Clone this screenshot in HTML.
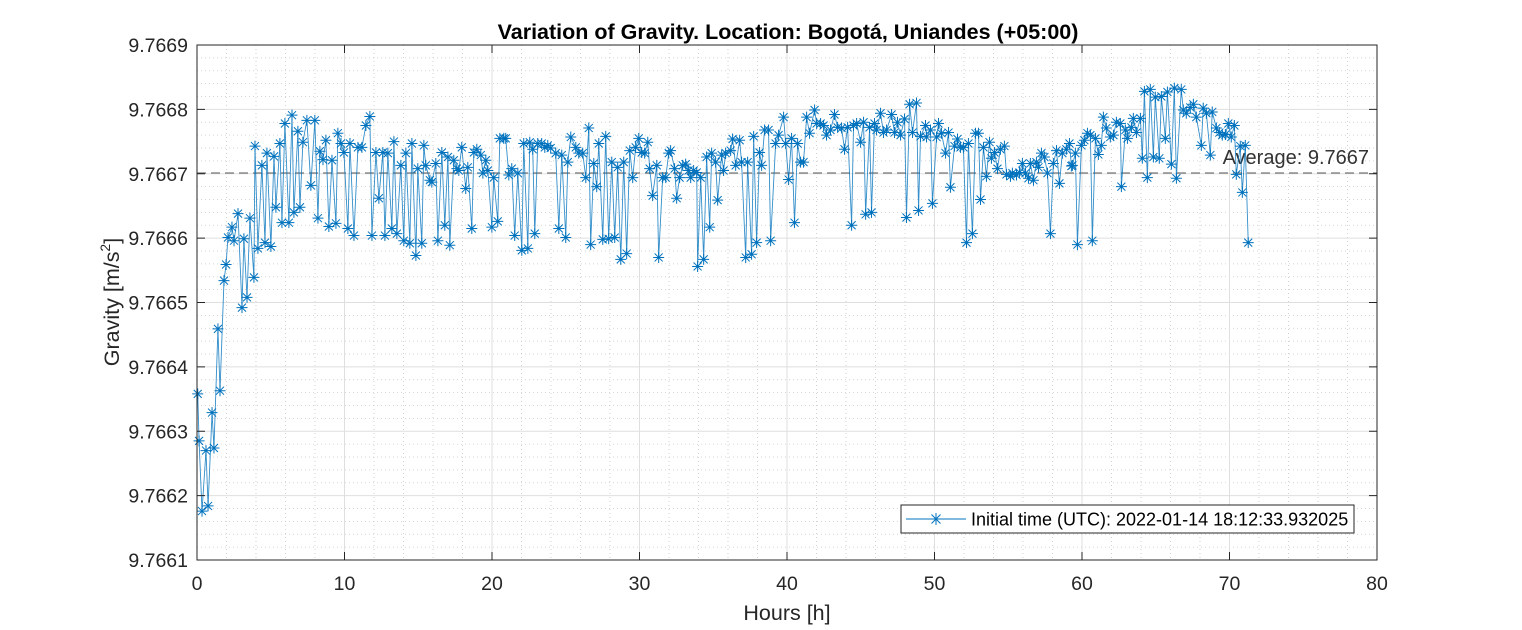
<!DOCTYPE html>
<html><head><meta charset="utf-8">
<style>
html,body{margin:0;padding:0;background:#fff;}
svg{display:block;font-family:"Liberation Sans",Arial,sans-serif;}
</style></head>
<body>
<svg id="chart" width="1522" height="630" viewBox="0 0 1522 630" xmlns="http://www.w3.org/2000/svg">
<rect x="0" y="0" width="1522" height="630" fill="#ffffff"/>
<g id="grid"></g>
<g id="avg"></g>
<g id="series"></g>
<g id="axes"></g>
<text x="788" y="39" text-anchor="middle" font-size="21.5" font-weight="bold" fill="#000">Variation of Gravity. Location: Bogotá, Uniandes (+05:00)</text>
<text x="787" y="620" text-anchor="middle" font-size="21.5" fill="#262626">Hours [h]</text>
<text transform="translate(119,302) rotate(-90)" text-anchor="middle" font-size="21.5" fill="#262626">Gravity [m/s<tspan font-size="14" dy="-9">2</tspan><tspan dy="9">]</tspan></text>
<g>
<rect x="901" y="505" width="453" height="28" fill="#fff" stroke="#262626" stroke-width="1"/>
<line x1="906" y1="519" x2="966" y2="519" stroke="#0072BD" stroke-width="1"/>
<g stroke="#0072BD" stroke-width="1">
<line x1="936" y1="513" x2="936" y2="525"/><line x1="930" y1="519" x2="942" y2="519"/>
<line x1="931.5" y1="514.5" x2="940.5" y2="523.5"/><line x1="931.5" y1="523.5" x2="940.5" y2="514.5"/>
</g>
<text x="971" y="525.5" font-size="18" fill="#000">Initial time (UTC): 2022-01-14 18:12:33.932025</text>
</g>
</svg>
<script>
const hours = [0.05,0.14,0.34,0.61,0.75,1.02,1.15,1.42,1.56,1.83,1.97,2.10,2.37,2.51,2.78,3.05,3.18,3.39,3.59,3.86,3.93,4.13,4.40,4.61,4.74,5.01,5.22,5.35,5.62,5.76,5.96,6.23,6.44,6.57,6.84,6.98,7.18,7.45,7.72,7.99,8.20,8.33,8.54,8.74,8.94,9.15,9.42,9.55,9.76,9.96,10.23,10.37,10.64,10.91,11.18,11.45,11.72,
11.86,12.13,12.33,12.60,12.74,12.94,13.21,13.35,13.55,13.82,14.02,14.16,14.43,14.57,14.84,14.97,15.24,15.38,15.51,15.79,15.92,16.19,16.33,16.60,16.80,17.01,17.14,17.41,17.62,17.75,17.95,18.22,18.36,18.63,18.77,18.97,19.24,19.38,19.58,19.72,19.99,20.12,20.39,20.53,20.80,20.93,21.14,21.34,21.54,21.75,22.02,22.15,22.43,22.56,22.76,22.90,23.10,23.37,23.58,23.78,
23.98,24.32,24.53,24.73,25.00,25.14,25.34,25.68,25.88,26.15,26.36,26.56,26.69,26.90,27.10,27.24,27.51,27.71,27.91,28.12,28.32,28.52,28.73,28.93,29.13,29.34,29.54,29.74,29.95,30.15,30.35,30.56,30.69,30.89,31.17,31.30,31.57,31.78,31.98,32.11,32.38,32.52,32.72,32.93,33.13,33.33,33.47,33.67,33.88,33.94,34.15,34.35,34.55,34.76,34.89,35.16,35.30,35.57,
35.70,35.84,36.18,36.31,36.52,36.79,36.92,37.20,37.33,37.60,37.74,37.94,38.14,38.28,38.48,38.75,38.89,39.23,39.43,39.77,39.91,40.11,40.31,40.51,40.72,40.92,41.12,41.33,41.53,41.87,42.01,42.28,42.48,42.68,42.95,43.22,43.43,43.70,43.90,44.11,44.38,44.51,44.72,44.99,45.19,45.33,45.60,45.73,45.93,46.07,46.34,46.54,46.75,47.09,47.29,47.49,
47.70,47.97,48.10,48.31,48.51,48.78,48.92,49.05,49.39,49.46,49.73,49.86,50.14,50.27,50.47,50.75,50.95,51.08,51.36,51.56,51.76,51.96,52.17,52.30,52.57,52.78,52.98,53.12,53.32,53.52,53.73,53.86,54.07,54.27,54.47,54.74,54.88,55.15,55.28,55.56,55.76,55.96,56.17,56.37,56.50,56.71,56.91,57.05,57.25,57.45,57.66,57.86,58.06,58.27,58.47,58.67,58.94,59.15,59.28,
59.35,59.55,59.69,59.96,60.16,60.37,60.57,60.70,60.91,61.11,61.31,61.45,61.65,61.92,62.13,62.33,62.60,62.67,62.94,63.08,63.35,63.48,63.69,63.96,64.09,64.23,64.43,64.63,64.84,64.97,65.24,65.38,65.65,65.79,66.06,66.26,66.40,66.73,66.87,67.07,67.34,67.55,67.75,68.09,68.22,68.43,68.70,68.83,69.11,69.31,69.51,69.72,69.92,70.12,70.33,70.46,70.73,70.87,71.07,71.27];
const gravity = [9.766358,9.766285,9.766176,9.766270,9.766184,9.766329,9.766274,9.766459,9.766363,9.766534,9.766559,9.766601,9.766617,9.766596,9.766638,9.766492,9.766599,9.766508,9.766631,9.766539,9.766743,9.766584,9.766713,9.766593,9.766732,9.766587,9.766727,9.766648,9.766747,9.766624,9.766778,9.766624,9.766791,9.766640,9.766766,9.766648,9.766749,9.766783,9.766682,9.766783,9.766631,9.766735,9.766722,9.766752,9.766618,9.766721,9.766623,9.766763,9.766747,9.766733,9.766615,9.766747,9.766604,9.766741,9.766741,9.766775,9.766789,
9.766604,9.766733,9.766662,9.766733,9.766604,9.766732,9.766615,9.766750,9.766607,9.766713,9.766596,9.766732,9.766592,9.766747,9.766573,9.766708,9.766592,9.766744,9.766713,9.766690,9.766687,9.766716,9.766596,9.766733,9.766620,9.766726,9.766589,9.766721,9.766708,9.766705,9.766741,9.766677,9.766710,9.766615,9.766733,9.766738,9.766729,9.766701,9.766721,9.766705,9.766617,9.766694,9.766626,9.766755,9.766755,9.766755,9.766698,9.766708,9.766604,9.766701,9.766581,9.766747,9.766584,9.766749,9.766738,9.766607,9.766747,9.766747,9.766741,9.766744,
9.766740,9.766732,9.766615,9.766729,9.766601,9.766718,9.766757,9.766741,9.766732,9.766732,9.766694,9.766771,9.766590,9.766716,9.766680,9.766747,9.766598,9.766758,9.766599,9.766718,9.766601,9.766710,9.766567,9.766718,9.766576,9.766736,9.766694,9.766741,9.766755,9.766733,9.766732,9.766749,9.766708,9.766666,9.766713,9.766570,9.766694,9.766694,9.766732,9.766736,9.766708,9.766662,9.766694,9.766713,9.766715,9.766705,9.766694,9.766705,9.766702,9.766556,9.766694,9.766567,9.766726,9.766617,9.766732,9.766718,9.766659,9.766729,
9.766705,9.766732,9.766736,9.766754,9.766713,9.766752,9.766718,9.766570,9.766718,9.766575,9.766758,9.766593,9.766733,9.766713,9.766768,9.766768,9.766596,9.766747,9.766760,9.766788,9.766747,9.766691,9.766755,9.766624,9.766747,9.766718,9.766718,9.766788,9.766763,9.766799,9.766778,9.766778,9.766775,9.766760,9.766768,9.766792,9.766772,9.766771,9.766738,9.766772,9.766620,9.766775,9.766778,9.766749,9.766780,9.766637,9.766772,9.766640,9.766778,9.766768,9.766794,9.766764,9.766768,9.766792,9.766764,9.766780,
9.766760,9.766785,9.766632,9.766808,9.766764,9.766810,9.766643,9.766758,9.766775,9.766757,9.766768,9.766654,9.766757,9.766778,9.766763,9.766732,9.766764,9.766679,9.766743,9.766754,9.766741,9.766741,9.766593,9.766747,9.766607,9.766763,9.766763,9.766660,9.766741,9.766696,9.766749,9.766724,9.766733,9.766708,9.766738,9.766743,9.766699,9.766696,9.766701,9.766698,9.766702,9.766716,9.766701,9.766693,9.766716,9.766690,9.766718,9.766710,9.766732,9.766726,9.766701,9.766607,9.766716,9.766736,9.766685,9.766732,9.766738,9.766747,9.766712,
9.766713,9.766732,9.766590,9.766744,9.766752,9.766763,9.766760,9.766596,9.766755,9.766730,9.766744,9.766788,9.766771,9.766757,9.766760,9.766780,9.766778,9.766680,9.766768,9.766755,9.766772,9.766786,9.766764,9.766786,9.766724,9.766828,9.766694,9.766831,9.766726,9.766819,9.766724,9.766820,9.766755,9.766827,9.766715,9.766833,9.766693,9.766831,9.766799,9.766794,9.766803,9.766808,9.766788,9.766744,9.766802,9.766794,9.766729,9.766796,9.766771,9.766764,9.766760,9.766761,9.766778,9.766757,9.766775,9.766699,9.766743,9.766671,9.766744,9.766593];
const xTicks = [0,10,20,30,40,50,60,70,80];
const yTicks = [9.7661,9.7662,9.7663,9.7664,9.7665,9.7666,9.7667,9.7668,9.7669];

const NS = "http://www.w3.org/2000/svg";
const L = 197, R = 1377, T = 45, B = 560;
const xMin = 0, xMax = 80, yMin = 9.7661, yMax = 9.7669;
function xs(v){ return L + (v - xMin) / (xMax - xMin) * (R - L); }
function ys(v){ return B - (v - yMin) / (yMax - yMin) * (B - T); }
function mk(tag, attrs, parent){
  const e = document.createElementNS(NS, tag);
  for (const k in attrs) e.setAttribute(k, attrs[k]);
  parent.appendChild(e);
  return e;
}
const grid = document.getElementById('grid');
const axes = document.getElementById('axes');
const series = document.getElementById('series');
const avgG = document.getElementById('avg');

for (let h = xMin; h <= xMax; h += 2) {
  if (h % 10 === 0) continue;
  const ln = mk('line', {x1: xs(h), x2: xs(h), y1: T, y2: B, stroke: '#c8c8c8', 'stroke-width': 0.8, 'stroke-dasharray': '1 3'}, grid);
  
  
}
for (let i = 0; i <= 40; i++) {
  if (i % 5 === 0) continue;
  const v = yMin + i * 0.00002;
  const ln = mk('line', {x1: L, x2: R, y1: ys(v), y2: ys(v), stroke: '#c8c8c8', 'stroke-width': 0.8, 'stroke-dasharray': '1 3'}, grid);
  
  
}
xTicks.forEach(function(t){
  const x = xs(t);
  const g = mk('line', {x1: x, x2: x, y1: T, y2: B, stroke: '#dfdfdf', 'stroke-width': 1}, grid);
  
  
  mk('line', {x1: x, x2: x, y1: B, y2: B - 8, stroke: '#262626', 'stroke-width': 1}, axes);
  mk('line', {x1: x, x2: x, y1: T, y2: T + 8, stroke: '#262626', 'stroke-width': 1}, axes);
  const lb = mk('text', {x: x, y: 590, 'text-anchor': 'middle', 'font-size': 19.5, fill: '#262626'}, axes);
  
  
  lb.textContent = String(t);
});
yTicks.forEach(function(t){
  const y = ys(t);
  const g = mk('line', {x1: L, x2: R, y1: y, y2: y, stroke: '#dfdfdf', 'stroke-width': 1}, grid);
  
  
  mk('line', {x1: L, x2: L + 8, y1: y, y2: y, stroke: '#262626', 'stroke-width': 1}, axes);
  mk('line', {x1: R, x2: R - 8, y1: y, y2: y, stroke: '#262626', 'stroke-width': 1}, axes);
  const lb = mk('text', {x: 188, y: y + 7, 'text-anchor': 'end', 'font-size': 19.5, fill: '#262626'}, axes);
  
  
  lb.textContent = t.toFixed(4);
});
const frame = mk('rect', {x: L, y: T, width: R - L, height: B - T, fill: 'none', stroke: '#262626', 'stroke-width': 1}, axes);



let sum = 0;
gravity.forEach(function(v){ sum += v; });
const avg = sum / gravity.length;
const al = mk('line', {x1: L, x2: R, y1: ys(avg), y2: ys(avg), stroke: '#555', 'stroke-width': 1, 'stroke-dasharray': '9 5'}, avgG);


const at = mk('text', {x: 1369, y: ys(avg) - 9, 'text-anchor': 'end', 'font-size': 20, fill: '#333'}, avgG);


at.textContent = 'Average: ' + avg.toFixed(4);

let d = '';
for (let i = 0; i < hours.length; i++) {
  d += (i ? 'L' : 'M') + xs(hours[i]).toFixed(2) + ' ' + ys(gravity[i]).toFixed(2);
}
const path = mk('path', {d: d, fill: 'none', stroke: '#0072BD', 'stroke-width': 0.9, 'stroke-opacity': 0.8}, series);


for (let i = 0; i < hours.length; i++) {
  const cx = xs(hours[i]), cy = ys(gravity[i]), r = 5.5, q = 4;
  const p = mk('path', {d: 'M' + cx + ' ' + (cy - r) + 'V' + (cy + r) + 'M' + (cx - r) + ' ' + cy + 'H' + (cx + r) +
    'M' + (cx - q) + ' ' + (cy - q) + 'L' + (cx + q) + ' ' + (cy + q) + 'M' + (cx - q) + ' ' + (cy + q) + 'L' + (cx + q) + ' ' + (cy - q),
    stroke: '#0072BD', 'stroke-width': 1, fill: 'none'}, series);
  
  
}
</script>
</body></html>
